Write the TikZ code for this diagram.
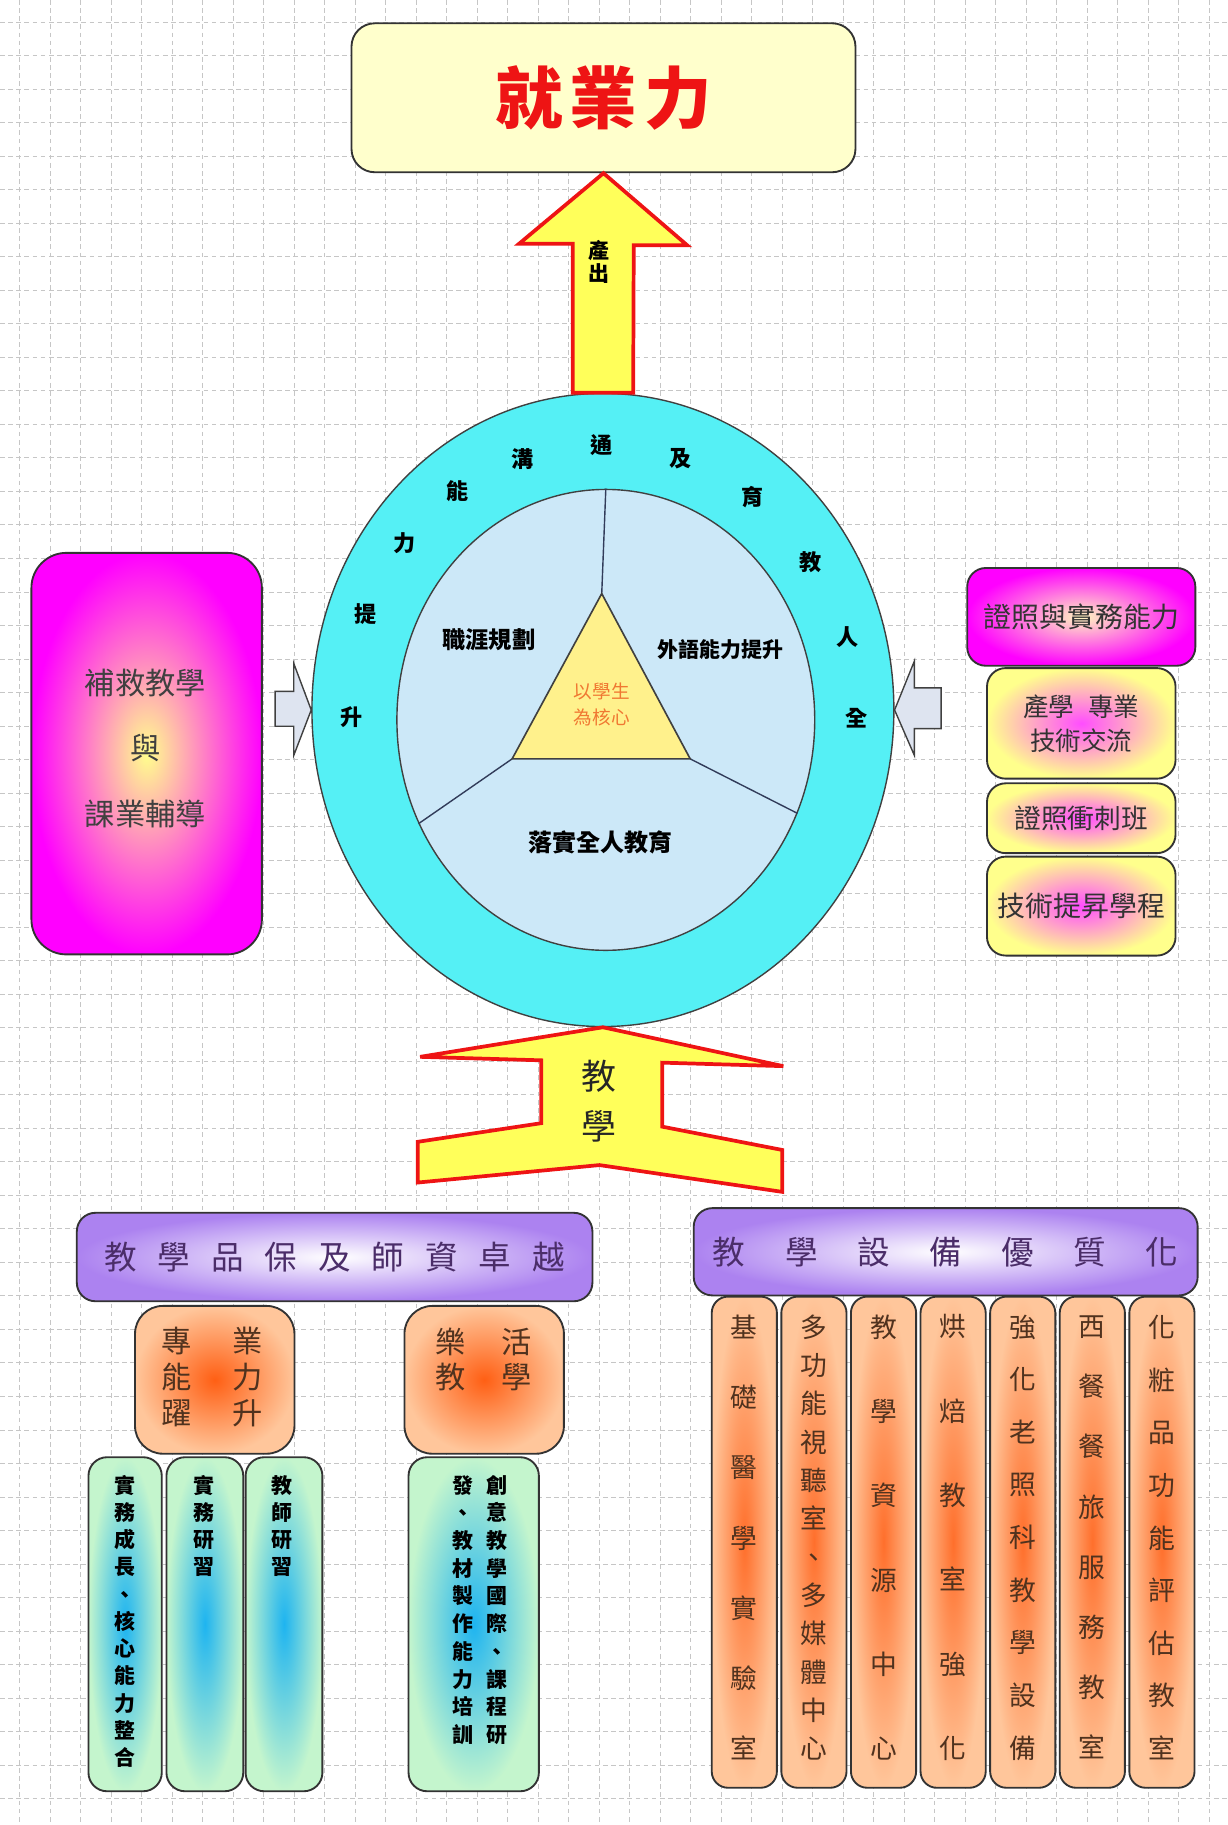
\documentclass[tikz,border=0pt]{standalone}
\usepackage{fontspec}
\setmainfont{Noto Sans CJK TC}
\usepackage{tikz}
\usetikzlibrary{shapes.geometric}
\definecolor{ringcyan}{RGB}{85,240,245}
\definecolor{coreblue}{RGB}{204,232,248}
\definecolor{hubyellow}{RGB}{255,241,140}
\definecolor{arrowyellow}{RGB}{255,255,90}
\definecolor{arrowred}{RGB}{238,20,20}
\definecolor{paleyellow}{RGB}{255,255,204}
\definecolor{greyblue}{RGB}{222,228,240}
\definecolor{lavender}{RGB}{172,130,240}
\definecolor{peach}{RGB}{255,198,155}
\definecolor{hotorange}{RGB}{255,95,20}
\definecolor{mint}{RGB}{196,245,205}
\definecolor{skyblue}{RGB}{30,180,240}
\definecolor{inkbrown}{RGB}{80,50,30}
\definecolor{inkpurple}{RGB}{75,45,105}
\definecolor{hubtext}{RGB}{240,120,50}
\definecolor{spokeblue}{RGB}{50,60,90}
\newcommand{\edgewd}{.8pt}
\newcommand{\qg}{\hspace{9pt}}
\newcommand{\eg}{\hspace{17pt}}

\tikzset{
  gridline/.style={gray!45, dash pattern=on 2pt off 1.5pt, line width=.4pt},
  card/.style={draw=black!80, line width=\edgewd, rounded corners=#1, inner sep=0pt},
  card/.default=6pt,
  ringshape/.style={ellipse, draw=black!75, line width=.6pt, inner sep=0pt},
  blockarrow/.style={fill=arrowyellow, draw=arrowred, line width=1.6pt, line join=miter},
  sidearrow/.style={fill=greyblue, draw=black!75, line width=.6pt},
  spoke/.style={draw=spokeblue, line width=.6pt},
  headbar/.style={card=8pt, inner color=white, outer color=lavender, text=inkpurple,
    font=\fontsize{14}{16}\selectfont},
  glowbox/.style={card=12pt, inner color=hotorange, outer color=peach,
    minimum width=68.5pt, minimum height=63.5pt},
  stripbox/.style={card=7pt, inner color=hotorange!90, outer color=peach,
    minimum width=28pt, minimum height=211pt},
  mintbox/.style={card=8pt, inner color=skyblue, outer color=mint, minimum height=143.5pt},
  pinkbox/.style={card=8pt, inner color=magenta!70, outer color=yellow!45, minimum width=81pt},
  vtext/.style={align=center, inner sep=0pt},
  ringchar/.style={inner sep=0pt, font=\fontsize{9.5}{9.5}\selectfont\bfseries},
  coretext/.style={inner sep=0pt, font=\fontsize{10}{10}\selectfont\bfseries}
}

\begin{document}
\begin{tikzpicture}[x=.5pt,y=-.5pt]
    \useasboundingbox (0,0) rectangle (1055,1568);
    % grid paper
    \foreach \gx in {0,...,39}
        \draw[gridline] ({17+26.2*\gx},0) -- ({17+26.2*\gx},1568);
    \foreach \gy in {0,...,53}
        \draw[gridline] (0,{19+28.8*\gy}) -- (1055,{19+28.8*\gy});

    % output
    \node[card=10pt, fill=paleyellow, minimum width=216.5pt, minimum height=64pt,
        text=arrowred, font=\fontsize{29}{29}\selectfont\bfseries] (job) at (518.5,84)
        {就\hspace{3pt}業\hspace{3pt}力};

    % the two rings and the hub
    \node[ringshape, fill=ringcyan, minimum width=250pt, minimum height=272pt] (ring) at (518,610) {};
    \node[ringshape, fill=coreblue, minimum width=179.5pt, minimum height=198pt] (core) at (520.5,618.5) {};
    \coordinate (tA) at (517,510);
    \coordinate (tL) at (440,652);
    \coordinate (tR) at (593,652);
    \draw[spoke] (core.north) -- (tA);
    \draw[spoke] (tL) -- (core.209);
    \draw[spoke] (tR) -- (core.334);
    \draw[fill=hubyellow, draw=black!75, line width=.7pt] (tA) -- (tL) -- (tR) -- cycle;
    \node[vtext, text=hubtext, font=\fontsize{8}{11}\selectfont] (hub) at (517,605) {以學生\\為核心};

    \node[coretext] (career) at (420,550) {職涯規劃};
    \node[coretext, font=\fontsize{9}{9}\selectfont\bfseries] (lang) at (619,558) {外語能力提升};
    \node[coretext, font=\fontsize{10.3}{10}\selectfont\bfseries] (whole) at (516,724) {落實全人教育};

    \foreach \ch/\x/\y [count=\k] in {通/517/382, 溝/449/394, 及/585/394, 能/393/422,
        育/647/427, 力/348/467, 教/696/483, 提/314/528, 人/728/547, 升/302/616, 全/736/617}
        \node[ringchar] (rc\k) at (\x,\y) {\ch};

    % output arrow
    \path (ring.north) ++(26,0) coordinate (shaftR) ++(-52,0) coordinate (shaftL);
    \draw[blockarrow] (job.south) -- ++(72,62) -- ++(-46,0) -- (shaftR) -- (shaftL)
        -- ++(0,-128) -- ++(-46,0) -- cycle;
    \node[vtext, font=\fontsize{9}{10}\selectfont\bfseries] (yield) at (515,225) {產\\出};

    % teaching arrow
    \draw[blockarrow] (ring.south) -- (361,908) -- (465,911) -- (465,965) -- (359,981)
        -- (359,1016) -- (515,1001) -- (672,1024) -- (672,988) -- (569,968)
        -- (569,913) -- (673,916) -- cycle;
    \node[vtext, text=black!85, font=\fontsize{15}{21.5}\selectfont] (teach) at (515,946) {教\\學};

    % left side
    \node[card=15pt, inner color=yellow!45, outer color=magenta, minimum width=99pt,
        minimum height=172.5pt] (remedy) at (126,647.5) {};
    \node[vtext, text=black!75, font=\fontsize{13}{28}\selectfont] (remedytxt) at (125,643)
        {補救教學\\與\\課業輔導};
    \draw[sidearrow] (ring.west) -- ++(-15,-40) -- ++(0,24) -- ++(-16,0) -- ++(0,30)
        -- ++(16,0) -- ++(0,25) -- cycle;

    % right side
    \node[card=8pt, inner color=red!15!yellow!25, outer color=magenta, minimum width=98pt,
        minimum height=42pt, text=black!80, font=\fontsize{12}{12}\selectfont] (cert) at (929,530)
        {證照與實務能力};
    \node[pinkbox, minimum height=47.5pt, align=center, text=black!80,
        font=\fontsize{11}{14.5}\selectfont] (coop) at (929,621.5) {產學\hspace{6pt}專業\\技術交流};
    \node[pinkbox, minimum height=30pt, text=black!80,
        font=\fontsize{11.5}{12}\selectfont] (drill) at (929,703) {證照衝刺班};
    \node[pinkbox, minimum height=42.5pt, text=black!80,
        font=\fontsize{12}{12}\selectfont] (skill) at (929,778.5) {技術提昇學程};
    \draw[sidearrow] (ring.east) -- ++(17,-42) -- ++(0,23) -- ++(23,0) -- ++(0,35)
        -- ++(-23,0) -- ++(0,23) -- cycle;

    % teaching quality and staff
    \node[headbar, minimum width=221.5pt, minimum height=38pt] (quality) at (287.5,1080)
        {教\qg 學\qg 品\qg 保\qg 及\qg 師\qg 資\qg 卓\qg 越};
    \node[glowbox] (prof) at (184.5,1185.5) {};
    \node[vtext, text=inkbrown, font=\fontsize{13}{15.5}\selectfont] (proftxt) at (182.5,1183)
        {專\hspace{17.5pt}業\\能\hspace{17.5pt}力\\躍\hspace{17.5pt}升};
    \node[glowbox] (lively) at (416,1185.5) {};
    \node[vtext, text=inkbrown, font=\fontsize{13}{15}\selectfont] (livelytxt) at (415.5,1168)
        {樂\hspace{15.5pt}活\\教\hspace{15.5pt}學};

    \node[mintbox, minimum width=31.5pt] (grow) at (107.5,1395.5) {};
    \node[mintbox, minimum width=33pt] (prac) at (176,1395.5) {};
    \node[mintbox, minimum width=33pt] (train) at (244,1395.5) {};
    \node[mintbox, minimum width=56pt] (create) at (407,1395.5) {};
    \node[vtext, anchor=north, font=\fontsize{9}{11.7}\selectfont\bfseries] (growtxt) at (107,1267)
        {實\\務\\成\\長\\、\\核\\心\\能\\力\\整\\合};
    \node[vtext, anchor=north, font=\fontsize{9}{11.7}\selectfont\bfseries] (practxt) at (175,1267)
        {實\\務\\研\\習};
    \node[vtext, anchor=north, font=\fontsize{9}{11.7}\selectfont\bfseries] (traintxt) at (242,1267)
        {教\\師\\研\\習};
    \node[vtext, anchor=north, font=\fontsize{9}{11.9}\selectfont\bfseries] (createtxt) at (412.5,1267)
        {發\hspace{5.5pt}創\\、\hspace{5.5pt}意\\教\hspace{5.5pt}教\\材\hspace{5.5pt}學\\製\hspace{5.5pt}國\\作\hspace{5.5pt}際\\能\hspace{5.5pt}、\\力\hspace{5.5pt}課\\培\hspace{5.5pt}程\\訓\hspace{5.5pt}研};

    % teaching equipment
    \node[headbar, minimum width=216.5pt, minimum height=37.5pt] (equip) at (812.5,1075.5)
        {教\eg 學\eg 設\eg 備\eg 優\eg 質\eg 化};
    \foreach \txt/\lead [count=\i from 0] in {
        {基\\礎\\醫\\學\\實\\驗\\室}/30.17,
        {多\\功\\能\\視\\聽\\室\\、\\多\\媒\\體\\中\\心}/16.45,
        {教\\學\\資\\源\\中\\心}/36.2,
        {烘\\焙\\教\\室\\強\\化}/36.2,
        {強\\化\\老\\照\\科\\教\\學\\設\\備}/22.6,
        {西\\餐\\餐\\旅\\服\\務\\教\\室}/25.86,
        {化\\粧\\品\\功\\能\\評\\估\\教\\室}/22.6}
    {
        \node[stripbox] (bay\i) at ({639.5+59.8*\i},1325) {};
        \node[vtext, text=inkbrown, font=\fontsize{11.5}{\lead}\selectfont] (baytxt\i)
            at ({639.5+59.8*\i},1321) {\txt};
    }
\end{tikzpicture}
\end{document}
